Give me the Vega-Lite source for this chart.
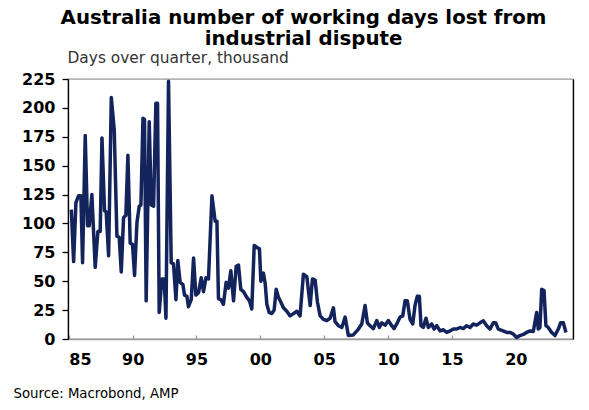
{
  "$schema": "https://vega.github.io/schema/vega-lite/v6.json",
  "width": 505,
  "height": 260,
  "autosize": "none",
  "padding": {"left": 68, "top": 79, "right": 16, "bottom": 71},
  "background": "white",
  "title": {
    "text": ["Australia number of working days lost from", "industrial dispute"],
    "anchor": "middle",
    "font": "DejaVu Sans",
    "fontSize": 19.8,
    "fontWeight": "bold",
    "color": "black",
    "lineHeight": 21,
    "dx": -17,
    "dy": 3,
    "offset": 4
  },
  "config": {
    "view": {"stroke": "#9a9a9a", "strokeWidth": 1.3},
    "axis": {"grid": false, "labelFont": "DejaVu Sans", "titleFont": "DejaVu Sans"}
  },
  "data": {
    "values": [
      {"t": 1985.20, "v": 112}, {"t": 1985.38, "v": 67}, {"t": 1985.56, "v": 118}, {"t": 1985.77, "v": 124},
      {"t": 1985.95, "v": 124}, {"t": 1986.08, "v": 66}, {"t": 1986.29, "v": 176}, {"t": 1986.47, "v": 98},
      {"t": 1986.60, "v": 98}, {"t": 1986.81, "v": 125}, {"t": 1987.07, "v": 62}, {"t": 1987.28, "v": 93},
      {"t": 1987.46, "v": 93}, {"t": 1987.60, "v": 174}, {"t": 1987.80, "v": 111}, {"t": 1987.93, "v": 110},
      {"t": 1988.12, "v": 72}, {"t": 1988.33, "v": 209}, {"t": 1988.56, "v": 181}, {"t": 1988.77, "v": 89},
      {"t": 1988.95, "v": 88}, {"t": 1989.11, "v": 58}, {"t": 1989.29, "v": 105}, {"t": 1989.47, "v": 107},
      {"t": 1989.63, "v": 159}, {"t": 1989.81, "v": 83}, {"t": 1989.99, "v": 82}, {"t": 1990.15, "v": 55},
      {"t": 1990.34, "v": 101}, {"t": 1990.52, "v": 115}, {"t": 1990.65, "v": 116}, {"t": 1990.81, "v": 191},
      {"t": 1990.93, "v": 190}, {"t": 1991.06, "v": 33}, {"t": 1991.30, "v": 188}, {"t": 1991.46, "v": 116},
      {"t": 1991.64, "v": 115}, {"t": 1991.82, "v": 204}, {"t": 1991.95, "v": 204}, {"t": 1992.08, "v": 23},
      {"t": 1992.29, "v": 52}, {"t": 1992.47, "v": 52}, {"t": 1992.61, "v": 18}, {"t": 1992.81, "v": 223},
      {"t": 1993.02, "v": 66}, {"t": 1993.20, "v": 65}, {"t": 1993.39, "v": 34}, {"t": 1993.54, "v": 68},
      {"t": 1993.72, "v": 49}, {"t": 1993.94, "v": 47}, {"t": 1994.06, "v": 38}, {"t": 1994.25, "v": 37},
      {"t": 1994.37, "v": 28}, {"t": 1994.59, "v": 34}, {"t": 1994.77, "v": 70}, {"t": 1994.95, "v": 38},
      {"t": 1995.16, "v": 40}, {"t": 1995.37, "v": 53}, {"t": 1995.55, "v": 41}, {"t": 1995.74, "v": 53},
      {"t": 1995.94, "v": 52}, {"t": 1996.21, "v": 124}, {"t": 1996.46, "v": 102}, {"t": 1996.60, "v": 102},
      {"t": 1996.72, "v": 35}, {"t": 1996.91, "v": 34}, {"t": 1997.11, "v": 30}, {"t": 1997.32, "v": 49},
      {"t": 1997.50, "v": 44}, {"t": 1997.69, "v": 59}, {"t": 1997.90, "v": 33}, {"t": 1998.11, "v": 63},
      {"t": 1998.29, "v": 64}, {"t": 1998.47, "v": 43}, {"t": 1998.68, "v": 41}, {"t": 1998.94, "v": 36},
      {"t": 1999.15, "v": 33}, {"t": 1999.33, "v": 26}, {"t": 1999.52, "v": 81}, {"t": 1999.77, "v": 79},
      {"t": 1999.93, "v": 78}, {"t": 2000.04, "v": 50}, {"t": 2000.24, "v": 57}, {"t": 2000.38, "v": 48},
      {"t": 2000.51, "v": 30}, {"t": 2000.69, "v": 23}, {"t": 2000.90, "v": 22}, {"t": 2001.08, "v": 25},
      {"t": 2001.24, "v": 43}, {"t": 2001.42, "v": 36}, {"t": 2001.60, "v": 32}, {"t": 2001.81, "v": 27},
      {"t": 2002.07, "v": 24}, {"t": 2002.33, "v": 20}, {"t": 2002.59, "v": 22}, {"t": 2002.86, "v": 24},
      {"t": 2003.11, "v": 20}, {"t": 2003.37, "v": 56}, {"t": 2003.64, "v": 54}, {"t": 2003.90, "v": 29},
      {"t": 2004.08, "v": 52}, {"t": 2004.29, "v": 51}, {"t": 2004.47, "v": 32}, {"t": 2004.68, "v": 20},
      {"t": 2004.94, "v": 17}, {"t": 2005.20, "v": 16}, {"t": 2005.46, "v": 18}, {"t": 2005.72, "v": 27},
      {"t": 2005.85, "v": 15}, {"t": 2006.11, "v": 11.5}, {"t": 2006.38, "v": 10}, {"t": 2006.64, "v": 19},
      {"t": 2006.89, "v": 3}, {"t": 2007.28, "v": 3.5}, {"t": 2007.68, "v": 8.6}, {"t": 2007.94, "v": 13},
      {"t": 2008.20, "v": 29}, {"t": 2008.38, "v": 14}, {"t": 2008.59, "v": 11.5}, {"t": 2008.85, "v": 9},
      {"t": 2009.12, "v": 16}, {"t": 2009.32, "v": 10}, {"t": 2009.51, "v": 14}, {"t": 2009.77, "v": 12},
      {"t": 2010.02, "v": 16}, {"t": 2010.29, "v": 11.5}, {"t": 2010.47, "v": 9}, {"t": 2010.68, "v": 13},
      {"t": 2010.94, "v": 19}, {"t": 2011.15, "v": 20}, {"t": 2011.33, "v": 33}, {"t": 2011.51, "v": 33},
      {"t": 2011.72, "v": 17}, {"t": 2011.93, "v": 13}, {"t": 2012.11, "v": 29}, {"t": 2012.29, "v": 37},
      {"t": 2012.45, "v": 37}, {"t": 2012.58, "v": 11.5}, {"t": 2012.76, "v": 10}, {"t": 2012.97, "v": 18},
      {"t": 2013.15, "v": 10}, {"t": 2013.42, "v": 13}, {"t": 2013.60, "v": 8.6}, {"t": 2013.81, "v": 11.5},
      {"t": 2014.07, "v": 7}, {"t": 2014.33, "v": 8}, {"t": 2014.59, "v": 5.7}, {"t": 2014.85, "v": 7},
      {"t": 2015.11, "v": 8.6}, {"t": 2015.38, "v": 8.6}, {"t": 2015.63, "v": 10}, {"t": 2015.89, "v": 9},
      {"t": 2016.16, "v": 11.5}, {"t": 2016.42, "v": 10}, {"t": 2016.67, "v": 13}, {"t": 2016.94, "v": 12},
      {"t": 2017.20, "v": 14}, {"t": 2017.46, "v": 15.8}, {"t": 2017.72, "v": 11.5}, {"t": 2017.98, "v": 8.6},
      {"t": 2018.24, "v": 14}, {"t": 2018.43, "v": 14}, {"t": 2018.63, "v": 8.6}, {"t": 2018.90, "v": 7.5},
      {"t": 2019.29, "v": 5.7}, {"t": 2019.55, "v": 5.7}, {"t": 2019.80, "v": 4.3}, {"t": 2020.07, "v": 1.4},
      {"t": 2020.33, "v": 3}, {"t": 2020.59, "v": 4}, {"t": 2020.85, "v": 5.7}, {"t": 2021.11, "v": 7},
      {"t": 2021.37, "v": 6.5}, {"t": 2021.64, "v": 23}, {"t": 2021.76, "v": 8.6}, {"t": 2021.89, "v": 10},
      {"t": 2022.03, "v": 43}, {"t": 2022.21, "v": 42}, {"t": 2022.36, "v": 11.5}, {"t": 2022.54, "v": 10},
      {"t": 2022.81, "v": 5.7}, {"t": 2023.07, "v": 3}, {"t": 2023.33, "v": 8.6}, {"t": 2023.51, "v": 14},
      {"t": 2023.72, "v": 14}, {"t": 2023.93, "v": 5.7}
    ]
  },
  "layer": [
    {
      "mark": {"type": "line", "color": "#13235b", "strokeWidth": 3.5, "strokeJoin": "round"},
      "encoding": {
        "x": {
          "field": "t",
          "type": "quantitative",
          "scale": {"domain": [1984.94, 2024.48], "nice": false, "zero": false},
          "axis": {
            "orient": "bottom",
            "values": [1985, 1990, 1995, 2000, 2005, 2010, 2015, 2020],
            "labelExpr": "slice(toString(datum.value), 2)",
            "labelFontSize": 16,
            "labelFontWeight": "bold",
            "labelColor": "black",
            "labelPadding": 16,
            "domainColor": "#9a9a9a",
            "domainWidth": 1.5,
            "tickColor": "#9a9a9a",
            "tickWidth": 1.3,
            "tickSize": -4,
            "title": "Source: Macrobond, AMP",
            "titleX": -55,
            "titleY": 58,
            "titleAlign": "left",
            "titleBaseline": "alphabetic",
            "titleFontSize": 13.3,
            "titleFontWeight": "normal",
            "titleColor": "black"
          }
        },
        "y": {
          "field": "v",
          "type": "quantitative",
          "scale": {"domain": [0, 225], "nice": false},
          "axis": {
            "orient": "left",
            "values": [0, 25, 50, 75, 100, 125, 150, 175, 200, 225],
            "labelFontSize": 16,
            "labelFontWeight": "bold",
            "labelColor": "black",
            "labelPadding": 7,
            "domainColor": "black",
            "domainWidth": 1.3,
            "tickColor": "black",
            "tickWidth": 1.3,
            "tickSize": 6,
            "title": "Days over quarter, thousand",
            "titleAngle": 0,
            "titleX": -1,
            "titleY": -17,
            "titleAlign": "left",
            "titleBaseline": "alphabetic",
            "titleFontSize": 15.4,
            "titleFontWeight": "normal",
            "titleColor": "#333333"
          }
        }
      }
    },
    {
      "mark": {"type": "line", "strokeOpacity": 0},
      "encoding": {
        "x": {"field": "t", "type": "quantitative"},
        "y": {
          "field": "v",
          "type": "quantitative",
          "axis": {
            "orient": "right",
            "labels": false,
            "ticks": false,
            "title": null,
            "domainColor": "black",
            "domainWidth": 1.3
          }
        }
      }
    }
  ],
  "resolve": {"axis": {"y": "independent"}}
}
